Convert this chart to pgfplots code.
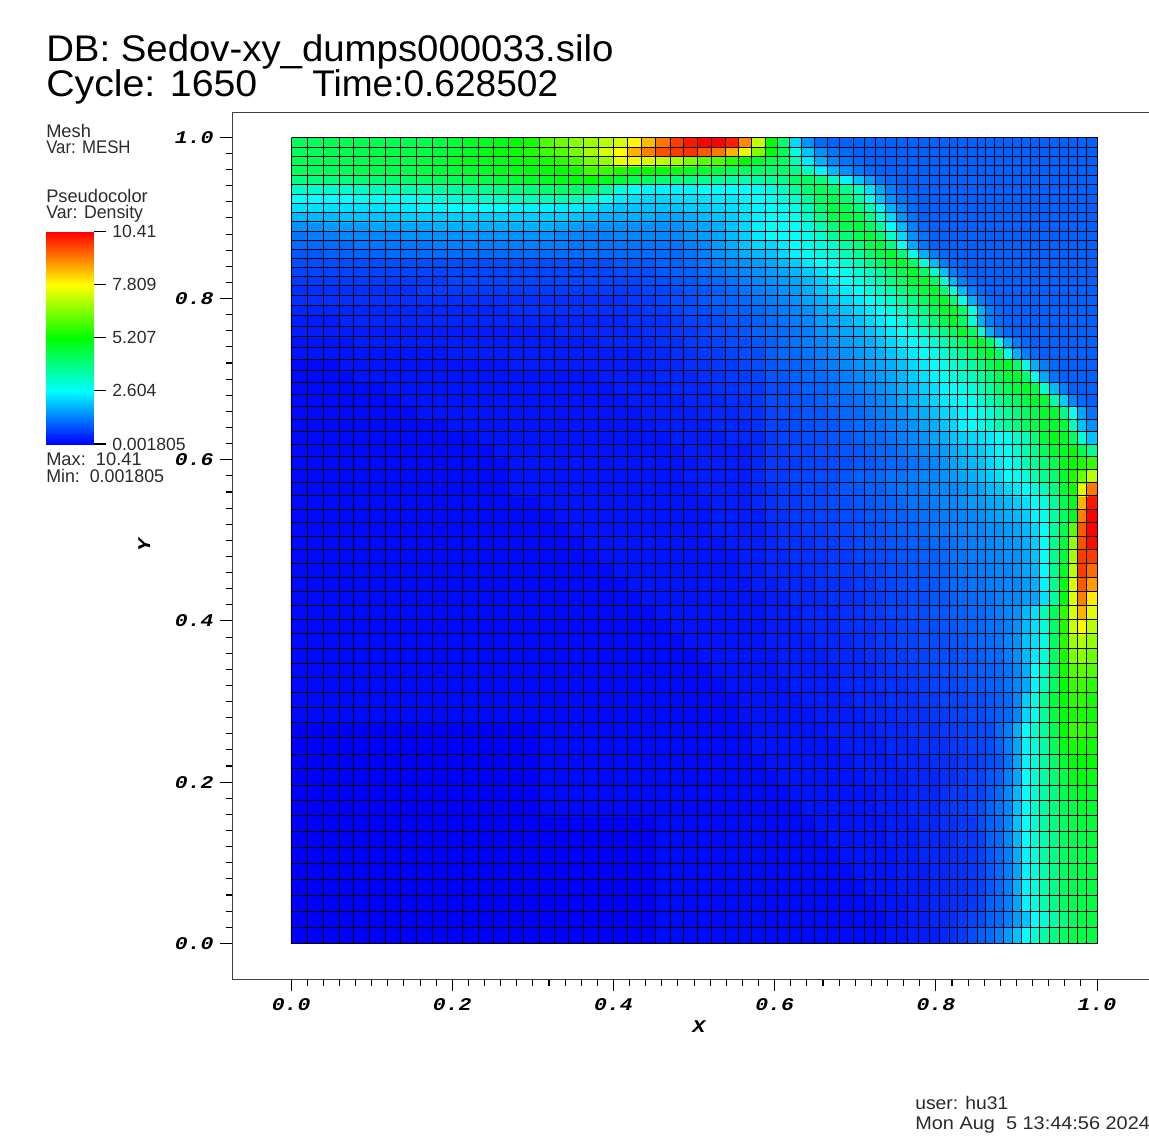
\documentclass[border=0pt]{standalone}
\usepackage{pgfplots}
\usepackage{pgfplotstable}
\usepackage{fontspec}
\pgfplotsset{compat=1.18}
\setmainfont{Liberation Sans}
\newfontfamily\tickf{Liberation Mono}
\pgfplotsset{colormap={visit}{rgb255=(0,0,255) rgb255=(0,255,255) rgb255=(0,255,0) rgb255=(255,255,0) rgb255=(255,0,0)}}
\definecolor{txt}{HTML}{2A2A2A}
\def\tk#1{\scalebox{1.2}[1]{\fontsize{13.4pt}{13.4pt}\tickf\bfseries\itshape #1}}
\def\st{\fontsize{13.7pt}{13.7pt}\selectfont}
\def\sb{\fontsize{13.2pt}{13.2pt}\selectfont}
\def\ti{\fontsize{27.8pt}{27.8pt}\selectfont}
\newtoks\lt
\foreach \v in {291.5,307.5,323.5,339.5,353.5,369.5,385.5,400.5,416.5,432.5,447.5,462.5,478.5,493.5,508.5,523.5,539.5,554.5,568.5,583.5,598.5,613.5,627.5,641.5,655.5,670.5,683.5,697.5,711.5,725.5,738.5,751.5,765.5,777.5,789.5,801.5,814.5,827.5,839.5,853.5,864.5,875.5,885.5,896.5,907.5,918.5,929.5,939.5,949.5,957.5,967.5,977.5,985.5,994.5,1003.5,1012.5,1021.5,1030.5,1039.5,1049.5,1059.5,1068.5,1077.5,1086.5,1097.5}{\edef\tmpb{\global\lt{\the\lt\v\space 137.5\noexpand\\\v\space 943.5\noexpand\\nan nan\noexpand\\}}\tmpb}
\foreach \v in {137.5,147.5,156.5,165.5,175.5,184.5,194.5,203.5,212.5,221.5,231.5,240.5,249.5,258.5,267.5,276.5,285.5,295.5,305.5,315.5,326.5,336.5,347.5,359.5,370.5,382.5,394.5,406.5,419.5,431.5,444.5,456.5,469.5,482.5,495.5,509.5,522.5,536.5,549.5,563.5,577.5,591.5,605.5,619.5,633.5,648.5,663.5,677.5,692.5,707.5,722.5,737.5,754.5,768.5,785.5,800.5,815.5,831.5,847.5,863.5,879.5,895.5,911.5,927.5,943.5}{\edef\tmpb{\global\lt{\the\lt 291.5 \v\noexpand\\1097.5 \v\noexpand\\nan nan\noexpand\\}}\tmpb}
\edef\tmpb{\noexpand\pgfplotstableread[row sep=crcr]{x y\noexpand\\\the\lt}\noexpand\meshl}\tmpb
\newtoks\dt \newtoks\rt \newcount\nc \newcount\rr
\def\xc{\ifcase\nc 299.3\or 315.6\or 331.5\or 346.4\or 361.5\or 377.4\or 393.1\or 408.8\or 424.7\or 440\or 455.1\or 470.8\or 485.9\or 500.8\or 516.2\or 531.5\or 546.6\or 561.3\or 576.2\or 591.4\or 606.1\or 620.6\or 634.6\or 648.6\or 662.9\or 676.7\or 690.4\or 704.6\or 718.4\or 731.8\or 745.2\or 758.6\or 771.6\or 783.7\or 795.7\or 808.2\or 820.7\or 833.4\or 846.4\or 858.5\or 869.5\or 880.4\or 891.2\or 902.2\or 913\or 923.7\or 934\or 944\or 953.2\or 962.3\or 972.3\or 981.2\or 989.7\or 998.7\or 1007.7\or 1016.8\or 1026\or 1035.2\or 1044.4\or 1054\or 1063.7\or 1072.8\or 1082\or 1091.9\fi}
\def\yc{\ifcase\rr 142.3\or 152\or 161.2\or 170.4\or 179.7\or 189.2\or 198.7\or 208\or 217.2\or 226.4\or 235.5\or 244.5\or 253.7\or 262.8\or 272\or 281.2\or 290.4\or 300\or 310\or 320.5\or 331.4\or 342.2\or 353.5\or 365\or 376.7\or 388.5\or 400.5\or 412.9\or 425.3\or 437.8\or 450.5\or 463.4\or 476.3\or 489.4\or 502.5\or 515.8\or 529.3\or 542.8\or 556.5\or 570.3\or 584.2\or 598.3\or 612.4\or 626.7\or 641.2\or 655.7\or 670.4\or 685.1\or 700\or 715.1\or 730.2\or 745.9\or 761.2\or 776.7\or 792.5\or 807.9\or 823.7\or 839.7\or 855.5\or 871.2\or 887\or 903.4\or 919.5\or 935.3\fi}
\def\endm{!}
\def\app#1{\edef\tmpb{\noexpand\rt{\the\rt\xc\space\yc\space#1\noexpand\\}}\tmpb\advance\nc 1 }
\def\addv#1 {\def\tmp{#1}\ifx\tmp\endm\let\next\relax\else
 \ifnum\nc<64 \app{#1}\edef\lastv{#1}\fi
 \let\next\addv\fi\next}
\def\R#1{\nc=0 \rt{}\addv#1 ! \pad}
\def\pad{\ifnum\nc<64 \app{\lastv}\expandafter\pad\else
 \edef\tmpb{\noexpand\dt{\the\rt\the\dt}}\tmpb\advance\rr 1 \fi}
\R{43 43 44 44 44 44 44 44 44 45 46 48 49 50 52 54 60 63 66 68 71 74 79 85 92 98 102 104 104 101 90 72 52 40 22 15 11 10}
\R{43 43 44 44 44 45 45 45 45 46 47 48 50 51 53 55 58 60 64 69 74 78 86 91 96 98 99 95 92 86 76 65 51 43 29 20 15 12 11 10}
\R{44 44 44 44 44 45 45 45 46 47 49 50 50 50 52 53 54 56 59 64 67 76 76 74 71 69 65 61 60 56 52 47 44 42 33 24 18 14 12 11 10}
\R{43 43 43 43 44 44 44 44 45 46 46 47 48 49 50 51 52 52 53 58 57 54 51 52 51 50 48 47 45 42 41 41 41 41 38 33 25 19 15 12 11 10}
\R{39 39 39 39 40 40 41 41 42 43 43 44 45 46 47 48 49 50 51 52 50 47 44 42 40 39 38 37 36 35 34 35 36 38 41 42 39 32 25 20 16 12 11 10}
\R{31 31 31 31 32 33 33 34 34 35 36 36 37 38 39 39 40 41 41 40 36 29 27 25 25 25 25 26 26 26 26 27 29 32 36 40 43 40 37 32 23 17 13 11 10}
\R{26 26 26 26 27 27 27 27 28 29 30 31 31 32 32 33 33 34 33 30 27 24 23 22 22 23 23 23 24 24 25 26 27 29 31 36 42 44 41 35 28 20 15 12 11 10}
\R{23 23 23 23 23 23 24 24 25 25 26 26 26 26 25 25 25 24 24 23 21 20 20 20 20 20 21 21 22 23 24 25 26 27 29 33 40 45 44 39 33 25 18 14 11 10}
\R{19 19 19 20 20 20 20 21 21 21 21 21 21 21 21 21 21 21 20 19 18 18 18 18 17 17 18 19 20 21 23 25 26 26 28 31 37 44 46 44 38 30 22 15 12 10}
\R{15 15 16 16 16 17 17 17 17 18 18 18 18 18 18 18 18 17 16 15 15 15 15 15 15 15 16 17 18 20 22 25 27 26 27 29 33 40 44 46 42 35 26 19 13 11 10}
\R{12 13 13 14 14 14 14 15 15 15 15 15 15 15 15 15 15 14 14 13 13 14 14 14 14 14 15 16 17 19 21 24 26 26 27 28 31 36 40 44 46 40 31 22 15 12 10}
\R{11 11 11 11 12 12 12 12 12 13 13 13 13 13 13 13 13 13 12 12 12 12 12 12 12 12 13 14 16 18 20 22 22 24 26 28 29 31 35 39 44 46 38 27 17 12 10}
\R{9 9 10 10 10 10 11 11 11 11 11 11 11 11 11 11 11 11 11 11 11 11 11 11 11 11 12 13 15 16 18 19 20 22 25 27 29 30 33 36 41 45 47 40 28 18 13 11 10}
\R{8 8 8 8 8 8 8 8 8 8 8 8 8 8 8 8 8 8 8 8 8 9 9 9 10 10 11 12 13 14 15 16 17 19 21 24 26 28 30 33 37 41 45 48 42 30 19 13 11 10}
\R{7 7 7 7 7 7 7 7 7 7 7 7 7 7 7 7 7 7 7 7 7 8 8 8 9 10 10 11 12 13 14 15 16 17 19 21 23 26 28 30 32 36 40 44 48 42 31 20 13 11 10}
\R{6 6 6 6 6 6 6 6 6 6 7 7 7 7 7 7 7 7 7 7 7 7 7 8 8 9 9 10 11 12 13 14 15 16 17 19 21 24 26 29 31 34 38 42 46 48 42 30 19 13 11 10}
\R{5 5 5 5 5 5 5 5 6 6 6 6 6 6 6 6 6 6 6 6 6 6 6 7 7 8 9 9 10 11 12 13 14 15 16 18 20 22 24 26 29 31 34 38 42 46 48 41 29 19 13 11 10}
\R{5 5 5 5 5 5 5 5 5 5 5 5 5 5 5 5 5 5 5 5 5 5 6 6 7 8 8 9 10 10 11 12 13 14 15 17 18 20 22 24 26 29 31 34 38 42 46 48 40 28 18 13 11 10}
\R{4 4 4 4 4 4 4 4 4 4 4 4 4 4 5 5 5 5 5 5 5 5 5 6 6 7 8 8 9 10 10 11 12 13 14 15 17 18 20 22 24 26 29 31 34 38 43 47 48 41 29 18 13 11 10}
\R{3 3 3 4 4 4 4 4 4 4 4 4 4 4 4 4 4 4 4 4 4 4 5 5 5 6 7 7 8 9 9 10 11 12 13 14 16 17 18 20 22 24 26 28 31 35 39 44 48 42 30 18 13 11 10}
\R{3 3 3 3 3 3 3 3 3 3 3 3 3 3 3 3 3 4 4 4 4 4 4 5 5 6 6 7 8 8 9 10 11 11 12 13 15 16 17 18 20 22 24 26 28 31 34 38 43 48 42 30 18 13 11 10}
\R{2 2 2 2 3 3 3 3 3 3 3 3 3 3 3 3 3 3 3 3 4 4 4 4 5 5 6 6 7 8 8 9 10 11 12 13 14 15 16 17 18 20 22 24 26 28 30 33 37 41 46 48 42 29 18 13 11 10}
\R{2 2 2 2 2 2 2 2 2 2 3 3 3 3 3 3 3 3 3 3 3 3 3 4 4 5 5 6 6 7 8 8 10 11 11 12 13 14 15 16 17 18 20 22 24 26 28 30 33 36 40 44 48 42 29 18 13 11 10}
\R{1 1 1 2 2 2 2 2 2 2 2 2 2 2 3 3 3 3 3 3 3 3 3 3 4 4 5 5 6 6 7 8 9 10 10 11 12 13 14 15 16 17 18 20 22 24 26 28 30 32 35 39 43 46 48 41 29 18 13 11 10}
\R{1 1 1 1 2 2 2 2 2 2 2 2 2 2 2 2 2 2 2 2 3 3 3 3 4 4 4 5 5 6 6 7 9 9 10 11 11 12 13 14 15 16 17 19 21 23 25 27 29 31 33 36 39 43 46 48 41 28 17 12 10}
\R{1 1 1 1 1 1 2 2 2 2 2 2 2 2 2 2 2 2 2 2 2 3 3 3 3 4 4 4 5 5 6 6 8 8 9 10 10 11 12 13 14 15 16 18 19 21 23 25 26 28 30 33 36 40 43 46 48 44 31 19 13 10}
\R{1 1 1 1 1 1 1 2 2 2 2 2 2 2 2 2 2 2 2 2 2 2 3 3 3 3 4 4 4 5 5 6 8 8 9 9 10 11 11 12 13 14 15 17 18 20 22 24 25 26 28 30 33 36 39 42 45 48 46 34 21 14 11 10}
\R{1 1 1 1 1 1 1 1 2 2 2 2 2 2 2 2 2 2 2 2 2 2 2 3 3 3 3 4 4 4 5 5 7 8 8 9 9 10 11 11 12 13 14 15 17 18 20 22 23 25 26 28 30 33 36 39 42 45 48 47 38 27 17 12}
\R{1 1 1 1 1 1 1 1 1 1 2 2 2 2 2 2 2 2 2 2 2 2 2 2 3 3 3 3 4 4 4 5 7 7 8 8 9 9 10 11 11 12 13 14 15 17 18 20 22 25 27 28 30 33 36 39 42 45 47 48 46 33 20 15}
\R{1 1 1 1 1 1 1 1 1 1 1 1 2 2 2 2 2 2 2 2 2 2 2 2 2 3 3 3 3 4 4 4 6 7 7 8 8 9 9 10 11 11 12 13 14 15 17 18 20 21 22 23 24 26 28 31 33 39 46 50 48 42 30 20}
\R{1 1 1 1 1 1 1 1 1 1 1 1 1 2 2 2 2 2 2 2 2 2 2 2 2 2 3 3 3 3 3 4 6 6 7 7 8 8 9 9 10 11 11 12 13 14 15 16 18 19 20 21 23 25 27 30 34 37 43 47 49 52 44 37}
\R{1 1 1 1 1 1 1 1 1 1 1 1 1 1 2 2 2 2 2 2 2 2 2 2 2 2 2 3 3 3 3 4 6 6 6 7 7 8 8 9 9 10 11 11 12 13 14 15 17 18 19 20 22 24 26 29 33 36 40 44 50 52 55 57}
\R{1 1 1 1 1 1 1 1 1 1 1 1 1 1 2 2 2 2 2 2 2 2 2 2 2 2 3 3 3 3 3 4 6 6 7 7 8 8 9 10 10 11 12 12 13 14 14 15 16 17 18 20 21 23 26 28 29 34 37 40 47 55 63 71}
\R{1 1 1 1 1 1 1 1 1 1 1 1 1 1 2 2 2 2 2 2 2 2 2 2 2 2 2 3 3 3 3 4 5 6 6 7 7 8 9 9 10 10 11 12 12 13 14 14 14 15 16 17 19 20 22 24 26 29 33 39 46 53 75 92}
\R{1 1 1 1 1 1 1 1 1 1 1 1 1 1 1 1 2 2 2 2 2 2 2 2 2 2 2 2 3 3 3 4 5 6 6 7 7 8 8 9 9 10 10 11 12 12 13 14 14 15 16 16 17 18 19 21 23 26 29 36 44 49 86 102}
\R{1 1 1 1 1 1 1 1 1 1 1 1 1 1 1 1 1 2 2 2 2 2 2 2 2 2 2 2 3 3 3 3 5 5 6 6 7 7 8 8 9 9 10 10 11 12 12 13 13 14 14 15 16 17 18 19 21 25 28 35 42 49 91 104}
\R{1 1 1 1 1 1 1 1 1 1 1 1 1 1 1 1 1 1 2 2 2 2 2 2 2 2 2 2 3 3 3 3 4 5 5 6 6 7 7 8 8 9 9 10 10 11 12 12 13 13 14 14 15 15 16 17 19 22 27 36 44 61 95 104}
\R{1 1 1 1 1 1 1 1 1 1 1 1 1 1 1 1 1 1 1 2 2 2 2 2 2 2 2 2 2 3 3 3 4 5 5 5 6 6 7 7 8 8 9 9 10 10 11 11 12 13 13 14 14 15 15 16 18 21 27 37 46 67 96 103}
\R{1 1 1 1 1 1 1 1 1 1 1 1 1 1 1 1 1 1 1 1 2 2 2 2 2 2 2 2 2 2 3 3 4 4 5 5 5 6 6 7 7 8 8 9 9 10 10 11 12 12 13 13 14 14 15 15 17 20 27 37 46 69 98 98}
\R{1 1 1 1 1 1 1 1 1 1 1 1 1 1 1 1 1 1 1 1 1 2 2 2 2 2 2 2 2 2 3 3 4 4 4 5 5 6 6 6 7 7 8 8 9 9 10 10 11 12 12 13 13 14 14 15 17 19 26 37 48 71 98 93}
\R{1 1 1 1 1 1 1 1 1 1 1 1 1 1 1 1 1 1 1 1 1 1 2 2 2 2 2 2 2 2 2 3 3 4 4 4 5 5 5 6 6 7 7 8 8 9 9 10 11 11 12 12 13 13 14 14 16 18 25 37 50 74 95 88}
\R{1 1 1 1 1 1 1 1 1 1 1 1 1 1 1 1 1 1 1 1 1 1 1 2 2 2 2 2 2 2 2 2 3 3 4 4 4 5 5 5 6 6 7 7 8 8 9 9 10 11 11 12 12 13 14 14 16 17 23 36 50 75 91 80}
\R{1 1 1 1 1 1 1 1 1 1 1 1 1 1 1 1 1 1 1 1 1 1 1 1 2 2 2 2 2 2 2 2 3 3 3 4 4 4 5 5 6 6 7 7 8 8 9 9 10 10 11 11 12 13 14 15 19 23 34 43 57 74 86 75}
\R{1 1 1 1 1 1 1 1 1 1 1 1 1 1 1 1 1 1 1 1 1 1 1 1 1 2 2 2 2 2 2 2 3 3 3 4 4 4 5 5 5 6 6 7 7 8 8 9 9 10 10 11 12 12 13 15 19 23 30 41 55 73 79 71}
\R{1 1 1 1 1 1 1 1 1 1 1 1 1 1 1 1 1 1 1 1 1 1 1 1 1 1 2 2 2 2 2 2 3 3 3 3 4 4 4 5 5 6 6 7 7 8 8 8 9 9 10 11 11 12 14 15 20 23 29 42 56 68 70 67}
\R{1 1 1 1 1 1 1 1 1 1 1 1 1 1 1 1 1 1 1 1 1 1 1 1 1 1 1 2 2 2 2 2 2 3 3 3 3 4 4 4 5 5 6 6 7 7 8 8 8 9 9 10 11 11 13 15 19 24 30 42 54 64 66 63}
\R{1 1 1 1 1 1 1 1 1 1 1 1 1 1 1 1 1 1 1 1 1 1 1 1 1 1 1 1 2 2 2 2 2 3 3 3 3 3 4 4 4 5 5 6 6 7 7 8 8 9 9 10 10 11 12 14 18 26 32 42 54 60 61 60}
\R{1 1 1 1 1 1 1 1 1 1 1 1 1 1 1 1 1 1 1 1 1 1 1 1 1 1 1 1 1 2 2 2 2 2 3 3 3 3 4 4 4 5 5 5 6 6 7 7 7 8 9 9 10 10 12 14 17 25 33 42 52 57 58 56}
\R{1 1 1 1 1 1 1 1 1 1 1 1 1 1 1 1 1 1 1 1 1 1 1 1 1 1 1 1 1 1 2 2 2 2 2 3 3 3 3 4 4 4 5 5 5 6 6 7 7 7 8 8 9 10 11 14 21 29 37 46 52 56 56 54}
\R{1 1 1 1 1 1 1 1 1 1 1 1 1 1 1 1 1 1 1 1 1 1 1 1 1 1 1 1 1 1 2 2 2 2 2 2 3 3 3 3 4 4 4 5 5 5 6 6 7 7 8 8 9 10 11 14 22 28 36 45 51 54 55 53}
\R{0 0 0 0 0 0 0 0 0 0 0 0 0 0 0 0 1 1 1 1 1 1 1 1 1 1 1 1 1 1 1 2 2 2 2 2 2 3 3 3 3 4 4 4 5 5 5 6 6 7 7 8 8 11 13 18 26 31 36 44 52 57 57 55}
\R{0 0 0 0 0 0 0 0 0 0 0 0 0 0 0 0 1 1 1 1 1 1 1 1 1 1 1 1 1 1 1 2 2 2 2 2 2 2 3 3 3 3 4 4 4 5 5 5 6 6 7 7 8 10 13 17 25 30 35 43 50 54 54 53}
\R{0 0 0 0 0 0 0 0 0 0 0 0 0 0 0 0 1 1 1 1 1 1 1 1 1 1 1 1 1 1 1 1 2 2 2 2 2 2 2 3 3 3 3 4 4 4 5 5 5 6 6 7 8 9 12 17 25 30 35 41 47 51 52 52}
\R{0 0 0 0 0 0 0 0 0 0 0 0 0 0 0 0 1 1 1 1 1 1 1 1 1 1 1 1 1 1 1 1 1 2 2 2 2 2 2 2 3 3 3 3 4 4 4 5 5 6 7 7 9 10 13 17 26 30 35 40 45 50 51 50}
\R{0 0 0 0 0 0 0 0 0 0 0 0 0 0 0 0 1 1 1 1 1 1 1 1 1 1 1 1 1 1 1 1 1 1 2 2 2 2 2 2 2 3 3 3 4 4 4 5 6 6 7 7 9 11 14 19 26 30 35 39 44 47 48 48}
\R{0 0 0 0 0 0 0 0 0 0 0 0 0 0 0 0 1 1 1 1 1 1 1 1 1 1 1 1 1 1 1 1 1 1 1 2 2 2 2 2 2 3 3 3 4 4 4 5 6 6 7 8 10 12 14 20 26 31 35 39 43 45 47 47}
\R{0 0 0 0 0 0 0 0 0 0 0 0 0 0 0 0 0 0 0 0 0 0 0 0 1 1 1 1 1 1 1 1 1 1 1 1 2 2 2 2 2 2 3 3 3 4 4 5 5 6 6 8 10 11 14 20 26 30 35 39 42 45 46 46}
\R{0 0 0 0 0 0 0 0 0 0 0 0 0 0 0 0 0 0 0 0 0 0 0 0 1 1 1 1 1 1 1 1 1 1 1 1 1 2 2 2 2 2 3 3 3 4 4 4 5 6 6 7 10 11 14 19 26 30 34 38 42 44 45 46}
\R{0 0 0 0 0 0 0 0 0 0 0 0 0 0 0 0 0 0 0 0 0 0 0 0 1 1 1 1 1 1 1 1 1 1 1 1 1 1 2 2 2 2 2 3 3 4 4 4 5 5 6 7 9 11 13 18 25 30 35 38 42 44 45 45}
\R{0 0 0 0 0 0 0 0 0 0 0 0 0 0 0 0 0 0 0 0 0 0 0 0 1 1 1 1 1 1 1 1 1 1 1 1 1 1 1 2 2 2 2 3 3 3 4 4 5 5 6 7 9 11 13 17 25 30 34 38 42 44 45 45}
\R{0 0 0 0 0 0 0 0 0 0 0 0 0 0 0 0 0 0 0 0 0 0 0 0 1 1 1 1 1 1 1 1 1 1 1 1 1 1 1 1 2 2 2 3 3 3 4 4 5 5 6 7 9 11 13 18 25 30 34 38 42 44 45 45}
\R{0 0 0 0 0 0 0 0 0 0 0 0 0 0 0 0 0 0 0 0 0 0 0 0 1 1 1 1 1 1 1 1 1 1 1 1 1 1 1 1 1 2 2 2 3 3 4 4 5 5 6 7 10 11 13 17 25 30 34 38 42 44 45 45}
\R{0 0 0 0 0 0 0 0 0 0 0 0 0 0 0 0 0 0 0 0 0 0 0 0 1 1 1 1 1 1 1 1 1 1 1 1 1 1 1 1 1 1 2 2 3 3 4 4 5 6 7 8 10 11 13 16 20 26 30 35 39 42 45 45}
\R{0 0 0 0 0 0 0 0 0 0 0 0 0 0 0 0 0 0 0 0 0 0 0 0 1 1 1 1 1 1 1 1 1 1 1 1 1 1 1 1 1 1 2 2 3 3 3 4 5 6 8 10 11 13 16 20 26 30 35 39 42 45 45 45}
\edef\tmpb{\noexpand\pgfplotstableread[row sep=crcr]{x y c\noexpand\\\the\dt}\noexpand\tbl}\tmpb
\newcommand\T[4]{\node[anchor=base west,inner sep=0,text=txt] at (#1,#2) {\st\scalebox{#3}[1]{\st #4}};}
\newcommand\B[4]{\node[anchor=base west,inner sep=0,text=black] at (#1,#2) {\ti\scalebox{#3}[1]{\ti #4}};}
\begin{document}
\begin{tikzpicture}
\useasboundingbox (0,0) rectangle (861.75pt,-855.75pt);
\clip (0,0) rectangle (861.75pt,-855.75pt);
\begin{axis}[at={(174.2pt,-734.5pt)},anchor=south west,scale only axis,
 width=692.7pt,height=650.25pt,
 xmin=-0.073,xmax=1.073,ymin=-0.04467,ymax=1.03102,y dir=normal,
 xtick pos=bottom,ytick pos=left,
 xtick={0,0.2,0.4,0.6,0.8,1},ytick={0,0.2,0.4,0.6,0.8,1},
 xticklabels={\tk{0.0},\tk{0.2},\tk{0.4},\tk{0.6},\tk{0.8},\tk{1.0}},
 yticklabels={\tk{0.0},\tk{0.2},\tk{0.4},\tk{0.6},\tk{0.8},\tk{1.0}},
 xticklabel style={yshift=-2pt},yticklabel style={xshift=-1.5pt},
 minor x tick num=9,minor y tick num=9,
 tick align=outside,major tick length=9pt,minor tick length=5pt,
 tick style={black,line width=0.8pt},
 axis line style={line width=1pt,draw=black!75},
 xlabel={\tk{X}},ylabel={\tk{Y}},
 x label style={at={(axis cs:0.506,-0.111)},anchor=base},
 y label style={at={(axis cs:-0.175,0.494)},anchor=base},
 colormap name=visit,point meta min=0,point meta max=104,
]
\addplot[matrix plot*,mesh/cols=64,point meta=\thisrow{c}]
 table[x=x,y=y,x expr={(\thisrow{x}-291.1)/805.9},y expr={(943.3-\thisrow{y})/806}]{\tbl};
\addplot[black,line width=1.05pt,no marks,unbounded coords=jump]
 table[x=x,y=y,x expr={(\thisrow{x}-291.1)/805.9},y expr={(943.3-\thisrow{y})/806}]{\meshl};
\end{axis}
\begin{axis}[at={(34.5pt,-333pt)},anchor=south west,scale only axis,width=36.2pt,height=159.2pt,
 xmin=0,xmax=1,ymin=0.001805,ymax=10.41,view={0}{90},
 axis line style={draw=none},xtick=\empty,ytick pos=right,
 ytick={0.001805,2.604,5.207,7.809,10.41},
 yticklabels={0.001805,2.604,5.207,7.809,10.41},
 tick align=outside,major tick length=9pt,tick style={black,line width=0.8pt},
 yticklabel style={font=\sb,text=txt,xshift=1pt},
 colormap name=visit,
]
\addplot3[surf,shader=interp,mesh/cols=2,point meta=y] coordinates {
(0,0.001805,0) (1,0.001805,0)
(0,2.604,0) (1,2.604,0)
(0,5.207,0) (1,5.207,0)
(0,7.809,0) (1,7.809,0)
(0,10.41,0) (1,10.41,0)};
\end{axis}
\begin{scope}[x=0.75pt,y=-0.75pt]
\B{46}{61.7}{1.035}{DB: Sedov-xy\_dumps000033.silo}
\B{46}{96.7}{1.06}{Cycle: 1650}
\B{312}{96.7}{1}{Time:0.628502}
\T{46}{137.3}{1}{Mesh}
\T{46}{154}{0.92}{Var: MESH}
\T{46}{202.7}{1}{Pseudocolor}
\T{46}{219}{0.97}{Var: Density}
\T{46}{465.7}{1}{Max:\ \ 10.41}
\T{46}{482.7}{0.975}{Min:\ \ 0.001805}
\T{915}{1109}{1.057}{user: hu31}
\T{915}{1129}{1.09}{Mon Aug\ \ 5 13:44:56 2024}
\end{scope}
\end{tikzpicture}
\end{document}
